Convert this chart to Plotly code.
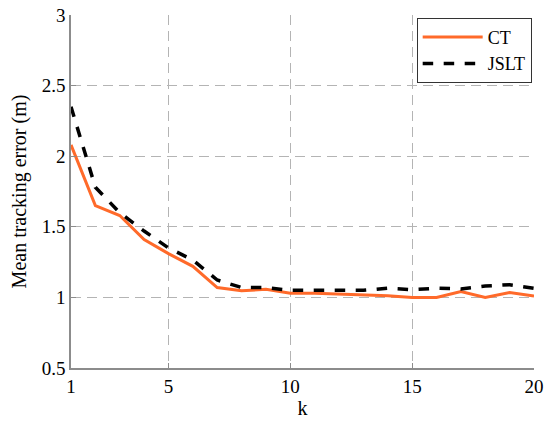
import plotly.graph_objects as go

# Datos
k = list(range(1, 21))
ct = [2.08, 1.65, 1.58, 1.41, 1.31, 1.22, 1.07, 1.047, 1.057, 1.03,
      1.03, 1.025, 1.02, 1.012, 1.0, 1.0, 1.042, 1.0, 1.035, 1.01]
jslt = [2.35, 1.78, 1.60, 1.47, 1.35, 1.265, 1.123, 1.07, 1.07, 1.05,
        1.05, 1.05, 1.05, 1.065, 1.055, 1.065, 1.06, 1.08, 1.09, 1.065]
x_ticks = [1, 5, 10, 15, 20]
y_ticks = [0.5, 1, 1.5, 2, 2.5, 3]

serif = "Liberation Serif"

fig = go.Figure()
fig.add_trace(go.Scatter(x=k, y=ct, mode="lines", name="CT",
                         line=dict(color="#ff6a2a", width=3)))
fig.add_trace(go.Scatter(x=k, y=jslt, mode="lines", name="JSLT",
                         line=dict(color="black", width=3.5, dash="dash")))

axis_common = dict(
    showgrid=True, gridcolor="#b4b4b4", griddash="10px,6px", gridwidth=1,
    showline=True, linecolor="#8c8c8c", linewidth=1.5,
    ticks="inside", ticklen=5, tickcolor="#8c8c8c",
    tickfont=dict(family=serif, size=19, color="black"),
    zeroline=False, mirror=False, automargin=False,
)

fig.update_layout(
    width=550, height=425,
    margin=dict(l=71, r=16, t=15, b=57),
    paper_bgcolor="white", plot_bgcolor="white",
    font=dict(family=serif, color="black"),
    xaxis=dict(range=[1, 20], tickvals=x_ticks,
               title=dict(text="k", font=dict(family=serif, size=20), standoff=4),
               **axis_common),
    yaxis=dict(range=[0.5, 3], tickvals=y_ticks,
               title=dict(text="Mean tracking error (m)", font=dict(family=serif, size=20), standoff=10),
               **axis_common),
    legend=dict(x=0.995, y=0.992, xanchor="right", yanchor="top",
                bordercolor="#333333", borderwidth=1, bgcolor="white",
                font=dict(family=serif, size=18),
                itemwidth=60, tracegroupgap=0),
    showlegend=True,
)

# quitar el margen por defecto del body para que la figura quede en (0,0)
fig.write_html("out.html", config={"displayModeBar": False},
               post_script="document.body.style.margin='0';")
